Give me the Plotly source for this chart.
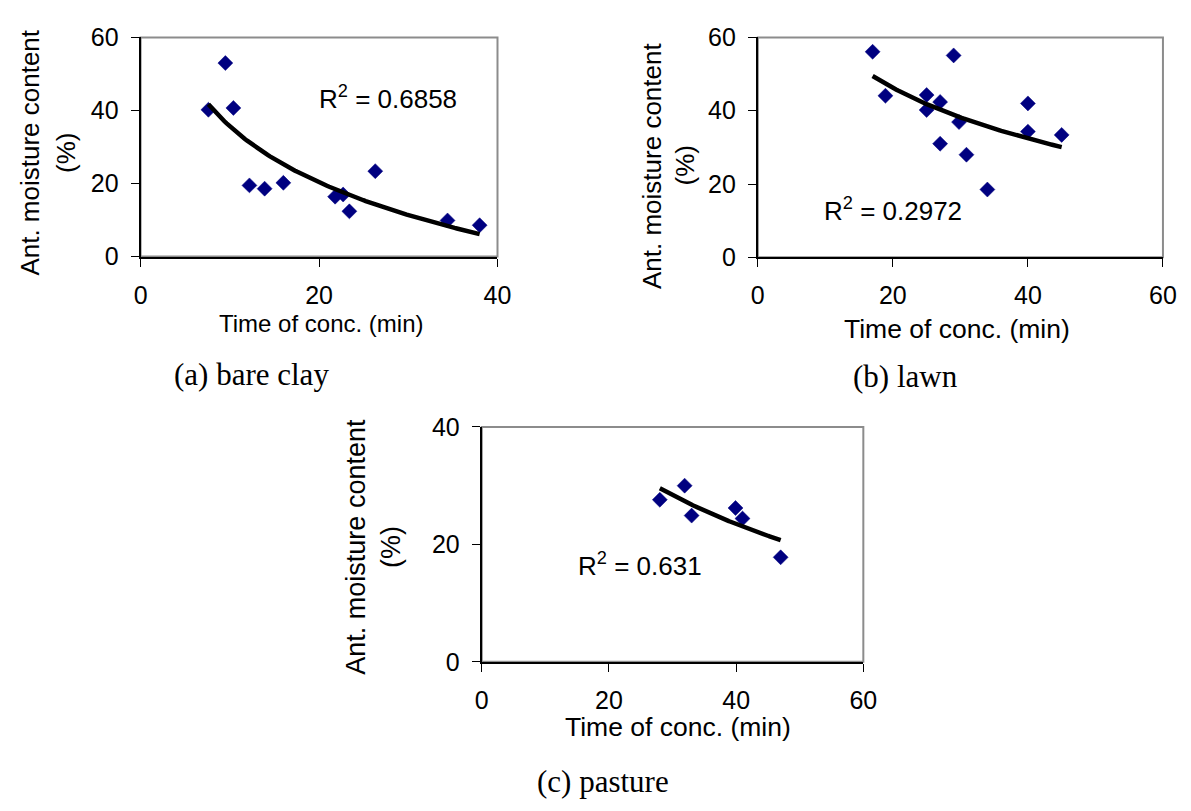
import numpy as np
import plotly.graph_objects as go

W, H = 1191, 811

# ---------------- data ----------------
# (a) bare clay
clay_tc = [7.6, 9.5, 10.4, 12.2, 13.9, 16.0, 21.8, 22.7, 23.4, 26.3, 34.4, 38.0]
clay_amc = [40.2, 53.0, 40.7, 19.5, 18.6, 20.2, 16.4, 17.0, 12.4, 23.4, 9.9, 8.6]
# (b) lawn
lawn_tc = [17.0, 18.9, 25.0, 25.0, 27.0, 27.0, 29.0, 29.8, 30.9, 34.0, 40.0, 40.0, 45.0]
lawn_amc = [56.1, 44.1, 44.3, 40.2, 42.4, 31.0, 55.1, 36.9, 28.0, 18.5, 42.0, 34.3, 33.4]
# (c) pasture
past_tc = [28.0, 31.9, 33.0, 39.9, 41.0, 47.0]
past_amc = [27.6, 30.0, 24.9, 26.2, 24.4, 17.8]

r2_values = ["0.6858", "0.2972", "0.631"]
captions = ["(a) bare clay", "(b) lawn", "(c) pasture"]
x_ranges = [[0, 40], [0, 60], [0, 60]]
y_ranges = [[0, 60], [0, 60], [0, 40]]
x_title = "Time of conc. (min)"
y_title_lines = ["Ant. moisture content", "(%)"]

series = [(clay_tc, clay_amc), (lawn_tc, lawn_amc), (past_tc, past_amc)]

# ---------------- layout geometry (pixels) ----------------
plot_boxes = [  # x0, x1, y_top, y_bottom
    (136.0, 499.3, 24.3, 251.3),
    (764.3, 1176.7, 24.3, 252.0),
    (483.3, 871.7, 427.7, 671.0),
]
r2_pos = [(388, 86), (902, 203), (644, 570)]
xtitle_pos = [(320, 321), (967, 326), (683, 738)]
ytitle_x = [(23, 60), (656, 690), (355, 391)]
ytitle_y = [144, 157, 552]
caption_pos = [(249, 373), (915, 375), (607, 795)]
xtitle_size = [24, 26.5, 26.5]
ytitle_size = [26, 26, 27]

SANS = "Liberation Sans, Arial, sans-serif"
SERIF = "Liberation Serif, Times New Roman, serif"


def px(x):
    return x / W


def py(y):
    return 1 - y / H


fig = go.Figure()
annotations = []
shapes = []


def note(text, x, y, family, size, angle=0):
    annotations.append(dict(
        text=text, x=px(x), y=py(y), xref="paper", yref="paper", showarrow=False,
        xanchor="center", yanchor="middle", textangle=angle,
        font=dict(family=family, size=size, color="black")))


for i, ((xs, ys), box) in enumerate(zip(series, plot_boxes)):
    n = "" if i == 0 else str(i + 1)
    xa, ya = "x" + n, "y" + n
    # scatter points
    fig.add_trace(go.Scatter(
        x=xs, y=ys, mode="markers", xaxis=xa, yaxis=ya, showlegend=False,
        marker=dict(symbol="diamond", size=11.5, color="#000080",
                    line=dict(width=0.5, color="#000080")),
    ))
    # logarithmic trend line fitted to the points
    a, b = np.polyfit(np.log(xs), ys, 1)
    tx = np.linspace(min(xs), max(xs), 120)
    fig.add_trace(go.Scatter(
        x=tx, y=a * np.log(tx) + b, mode="lines", xaxis=xa, yaxis=ya,
        showlegend=False, line=dict(color="black", width=4.5),
    ))

    x0, x1, yt, yb = box
    axis_common = dict(
        showgrid=False, zeroline=False, showline=True, linecolor="black",
        linewidth=2, ticks="outside", ticklen=8, tickwidth=1.2,
        tickcolor="black", tickfont=dict(family=SANS, size=25, color="black"),
        dtick=20, fixedrange=True,
    )
    fig.update_layout(**{
        ("xaxis" + n): dict(domain=[px(x0), px(x1)], range=x_ranges[i],
                            anchor=ya, ticklabelstandoff=7, **axis_common),
        ("yaxis" + n): dict(domain=[py(yb), py(yt)], range=y_ranges[i],
                            anchor=xa, ticklabelstandoff=7, **axis_common),
    })
    # gray plot-area border (top/right)
    shapes.append(dict(type="rect", xref=xa + " domain", yref=ya + " domain",
                       x0=0, x1=1, y0=0, y1=1, layer="below",
                       line=dict(color="#8c8c8c", width=2)))

    note("R<sup>2</sup> = " + r2_values[i], r2_pos[i][0], r2_pos[i][1], SANS, 26)
    note(x_title, xtitle_pos[i][0], xtitle_pos[i][1], SANS, xtitle_size[i])
    for line, lx in zip(y_title_lines, ytitle_x[i]):
        note(line, lx, ytitle_y[i], SANS, ytitle_size[i], angle=-90)
    note(captions[i], caption_pos[i][0], caption_pos[i][1], SERIF, 31)

fig.update_layout(
    width=W, height=H, margin=dict(l=0, r=0, t=0, b=0),
    paper_bgcolor="white", plot_bgcolor="white",
    annotations=annotations, shapes=shapes, showlegend=False,
)

fig.write_html(
    "out.html",
    config={"displayModeBar": False},
    post_script="document.body.style.margin='0';document.body.style.overflow='hidden';",
)
